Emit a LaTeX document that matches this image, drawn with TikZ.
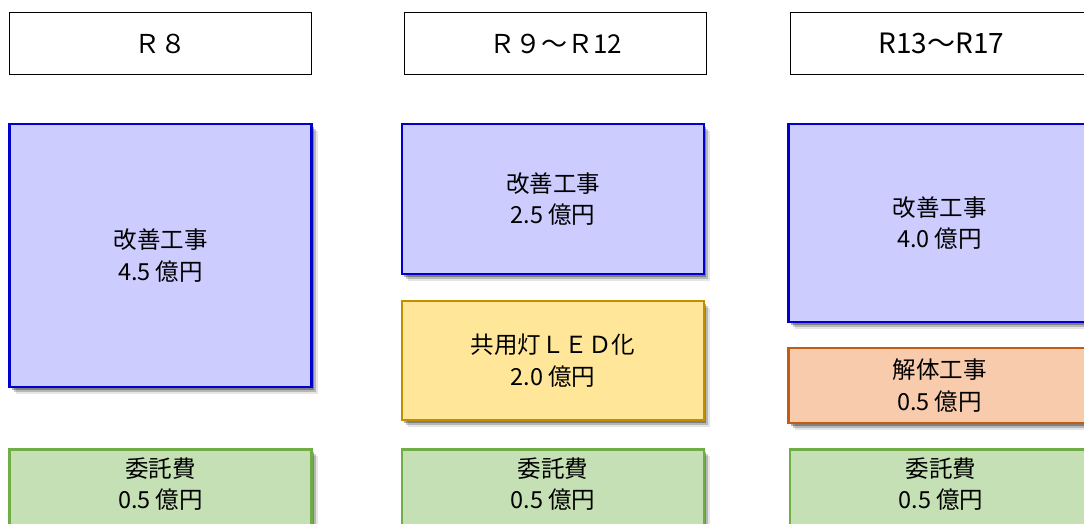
\documentclass[tikz,border=0pt]{standalone}
\usepackage{fontspec}
\newfontfamily\jp{Noto Sans CJK JP}
\usetikzlibrary{shadows}
\definecolor{bluefill}{HTML}{CCCCFF}
\definecolor{blueline}{HTML}{0000CC}
\definecolor{yelfill}{HTML}{FFE699}
\definecolor{yelline}{HTML}{BF9000}
\definecolor{orgfill}{HTML}{F8CBAD}
\definecolor{orgline}{HTML}{C55A11}
\definecolor{grnfill}{HTML}{C5E0B4}
\definecolor{grnline}{HTML}{70AD47}
\tikzset{
  hdr/.style={draw=black, line width=1.8pt, fill=white, minimum width=302, minimum height=62,
    inner sep=0pt, font=\jp\fontsize{26}{30}\selectfont},
  sh/.style={
    general shadow={shadow xshift=2pt, shadow yshift=-2.5pt, fill=black, opacity=.3},
    general shadow={shadow xshift=4pt, shadow yshift=-4.5pt, fill=black, opacity=.2},
    general shadow={shadow xshift=6pt, shadow yshift=-6.5pt, fill=black, opacity=.1}},
  box/.style={line width=2.8pt, minimum width=302, inner sep=0pt, align=center,
    font=\jp\fontsize{23.5}{31.5}\selectfont, sh},
  bluebox/.style={box, draw=blueline, fill=bluefill},
  yelbox/.style={box, draw=yelline, fill=yelfill},
  orgbox/.style={box, draw=orgline, fill=orgfill},
  grnbox/.style={box, draw=grnline, fill=grnfill, anchor=north, minimum height=95},
  txt/.style={align=center, inner sep=0pt, font=\jp\fontsize{23.5}{31.5}\selectfont}
}
\begin{document}
\begin{tikzpicture}[x=1pt,y=-1pt]
\useasboundingbox (0,0) rectangle (1084,523);
\clip (0,0) rectangle (1084,523);
\fill[white] (0,0) rectangle (1084,523);

% headers
\node[hdr] (h1) at (160.5,43.5) {Ｒ８};
\node[hdr] (h2) at (555.5,43.5) {Ｒ９～Ｒ12};
\node[hdr, font=\jp\fontsize{28}{30}\selectfont] (h3) at (941.5,43.5) {R13～R17};

% column 1
\node[bluebox, minimum height=263] (b1) at (160.5,255.5) {改善工事\\4.5 億円};
\node[grnbox] (g1) at (160.5,448) {};
\node[txt] (g1t) at (160.5,484) {委託費\\0.5 億円};

% column 2
\node[bluebox, minimum height=150] (b2) at (553,199) {改善工事\\2.5 億円};
\node[yelbox, minimum height=119] (y2) at (553,360.5) {共用灯ＬＥＤ化\\2.0 億円};
\node[grnbox] (g2) at (553,448) {};
\node[txt] (g2t) at (553,484) {委託費\\0.5 億円};

% column 3
\node[bluebox, minimum height=198] (b3) at (939.5,223) {改善工事\\4.0 億円};
\node[orgbox, minimum height=75] (o3) at (939.5,385.5) {解体工事\\0.5 億円};
\node[grnbox] (g3) at (941,448) {};
\node[txt] (g3t) at (941,484) {委託費\\0.5 億円};
\end{tikzpicture}
\end{document}
